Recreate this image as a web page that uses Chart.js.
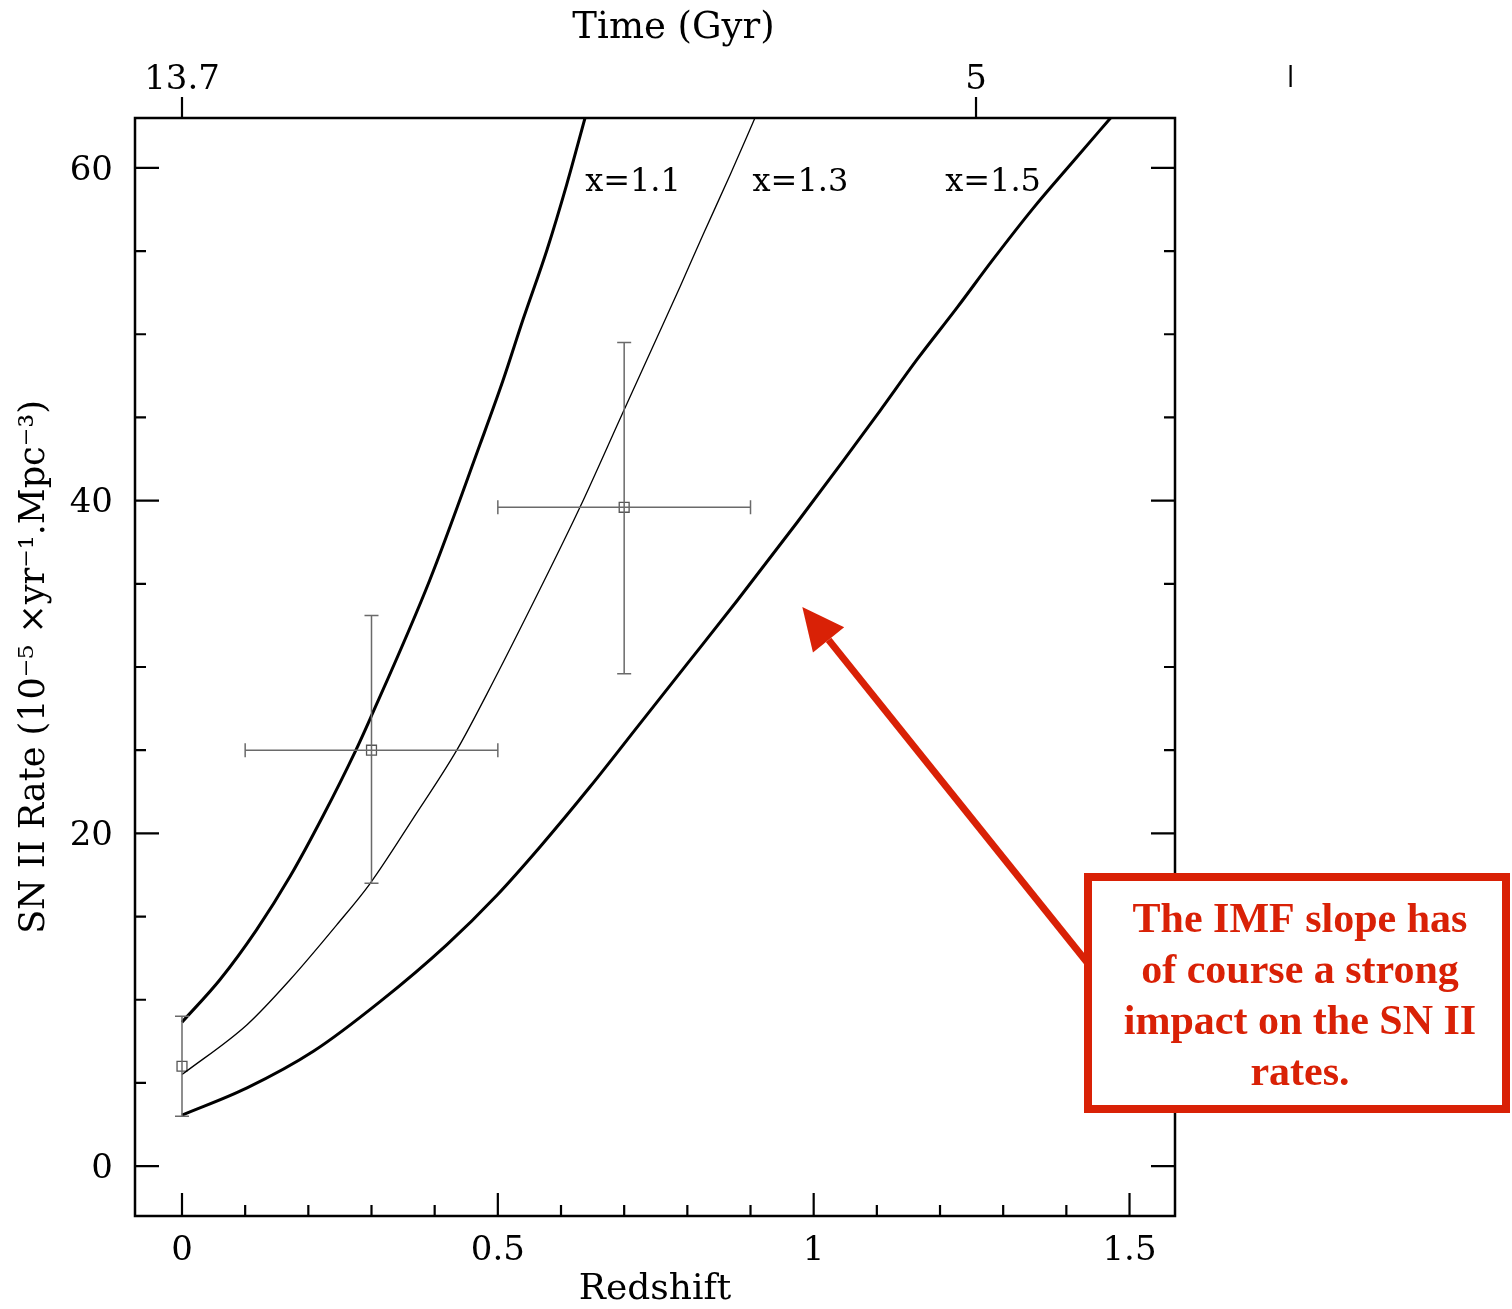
<!DOCTYPE html>
<html>
<head>
<meta charset="utf-8">
<title>SN II rate vs redshift</title>
<script src="https://cdn.jsdelivr.net/npm/chart.js@4.4.0/dist/chart.umd.min.js"></script>
<style>
  html, body { margin: 0; padding: 0; background: #fff; }
  #wrap { width: 1512px; height: 1309px; }
</style>
</head>
<body>
<div id="wrap"><canvas id="snChart" width="1512" height="1309"></canvas></div>
<script>
// --- 1. Data ---
// model curves, one per IMF slope
const z11 = [0, 0.06, 0.118, 0.171, 0.224, 0.274, 0.298, 0.392, 0.472, 0.508, 0.54, 0.578, 0.609, 0.638];
const rate11 = [8.65, 11.2, 14.2, 17.4, 21.1, 24.9, 26.9, 35.2, 43.4, 47.2, 50.9, 55.1, 59.0, 63.0];

const z13 = [0, 0.103, 0.171, 0.245, 0.298, 0.366, 0.435, 0.483, 0.567, 0.63, 0.698, 0.752, 0.789, 0.825, 0.868, 0.907];
const rate13 = [5.5, 8.5, 11.2, 14.5, 17.0, 20.9, 25.0, 28.4, 34.7, 39.6, 45.3, 49.8, 52.9, 56.0, 59.6, 63.0];

const z15 = [0, 0.103, 0.208, 0.314, 0.419, 0.499, 0.567, 0.646, 0.725, 0.8, 0.879, 0.974, 1.047, 1.105, 1.164, 1.227, 1.284, 1.348, 1.411, 1.47];
const rate15 = [3.06, 4.7, 6.9, 9.9, 13.3, 16.3, 19.2, 22.8, 26.6, 30.2, 34.0, 38.7, 42.4, 45.4, 48.5, 51.6, 54.5, 57.6, 60.4, 63.0];

const curveNames = ['x=1.1', 'x=1.3', 'x=1.5'];

// observed rates with error bars
const obsZ = [0, 0.3, 0.7];
const obsZLo = [0, 0.1, 0.5];
const obsZHi = [0, 0.5, 0.9];
const obsRate = [6.0, 25.0, 39.6];
const obsRateLo = [3.0, 17.0, 29.6];
const obsRateHi = [9.0, 33.1, 49.5];

// axes
const zTicks = [0, 0.1, 0.2, 0.3, 0.4, 0.5, 0.6, 0.7, 0.8, 0.9, 1.0, 1.1, 1.2, 1.3, 1.4, 1.5];
const zLabels = [0, 0.5, 1, 1.5];
const rateTicks = [0, 5, 10, 15, 20, 25, 30, 35, 40, 45, 50, 55, 60];
const rateLabels = [0, 20, 40, 60];
const timeTickZ = [0, 1.257];
const timeTickLabels = ['13.7', '5'];
const strayTimeTickZ = 1.755;

const noteLines = ['The IMF slope has', 'of course a strong', 'impact on the SN II', 'rates.'];

// --- 2. Helpers ---
const toXY = (xs, ys) => xs.map((v, i) => ({ x: v, y: ys[i] }));
const serif = '"DejaVu Serif", "Liberation Serif", serif';
const isMajor = (v, list) => list.some(m => Math.abs(m - v) < 1e-9);

// --- 3. Plugins: frame, inside ticks, error bars, labels, note ---
const frameTicks = {
    id: 'frameTicks',
    afterDatasetsDraw(chart) {
        const { ctx, chartArea: a, scales } = chart;
        const x = scales.x, y = scales.y;
        ctx.save();

        // error bars
        ctx.strokeStyle = '#6a6a6a';
        ctx.lineWidth = 1.5;
        ctx.beginPath();
        obsZ.forEach((z, i) => {
            const px = x.getPixelForValue(z);
            const py = y.getPixelForValue(obsRate[i]);
            const yLo = y.getPixelForValue(obsRateLo[i]);
            const yHi = y.getPixelForValue(obsRateHi[i]);
            ctx.moveTo(px, yLo); ctx.lineTo(px, yHi);
            ctx.moveTo(px - 7, yLo); ctx.lineTo(px + 7, yLo);
            ctx.moveTo(px - 7, yHi); ctx.lineTo(px + 7, yHi);
            if (obsZHi[i] > obsZLo[i]) {
                const xLo = x.getPixelForValue(obsZLo[i]);
                const xHi = x.getPixelForValue(obsZHi[i]);
                ctx.moveTo(xLo, py); ctx.lineTo(xHi, py);
                ctx.moveTo(xLo, py - 7); ctx.lineTo(xLo, py + 7);
                ctx.moveTo(xHi, py - 7); ctx.lineTo(xHi, py + 7);
            }
        });
        ctx.stroke();

        // frame
        ctx.strokeStyle = '#000';
        ctx.lineWidth = 2.5;
        ctx.strokeRect(a.left, a.top, a.right - a.left, a.bottom - a.top);

        // ticks pointing inwards (bottom, left, right)
        ctx.lineWidth = 2.2;
        ctx.beginPath();
        zTicks.forEach(v => {
            const px = x.getPixelForValue(v);
            const len = isMajor(v, zLabels) ? 23 : 11;
            ctx.moveTo(px, a.bottom); ctx.lineTo(px, a.bottom - len);
        });
        rateTicks.forEach(v => {
            const py = y.getPixelForValue(v);
            const len = isMajor(v, rateLabels) ? 24 : 11;
            ctx.moveTo(a.left, py); ctx.lineTo(a.left + len, py);
            ctx.moveTo(a.right, py); ctx.lineTo(a.right - len, py);
        });
        // time axis ticks point outwards
        timeTickZ.forEach(v => {
            const px = x.getPixelForValue(v);
            ctx.moveTo(px, a.top); ctx.lineTo(px, a.top - 21);
        });
        const sx = x.getPixelForValue(strayTimeTickZ);
        ctx.moveTo(sx, a.top - 31); ctx.lineTo(sx, a.top - 53);
        ctx.stroke();

        // curve names
        ctx.fillStyle = '#000';
        ctx.font = '32px ' + serif;
        ctx.textAlign = 'center';
        ctx.textBaseline = 'middle';
        const labelAt = [[0.714, 59.1], [0.979, 59.1], [1.284, 59.1]];
        curveNames.forEach((t, i) => {
            ctx.fillText(t, x.getPixelForValue(labelAt[i][0]), y.getPixelForValue(labelAt[i][1]));
        });
        ctx.restore();
    },
    afterDraw(chart) {
        const { ctx, scales } = chart;
        const red = '#d92106';
        ctx.save();

        // arrow pointing at the x=1.5 curve
        const tipX = scales.x.getPixelForValue(0.982);
        const tipY = scales.y.getPixelForValue(33.6);
        const fromX = 1090, fromY = 966;
        const ang = Math.atan2(tipY - fromY, tipX - fromX);
        const headLen = 42, headHalf = 20;
        const baseX = tipX - headLen * Math.cos(ang), baseY = tipY - headLen * Math.sin(ang);
        ctx.strokeStyle = red;
        ctx.lineWidth = 7;
        ctx.beginPath();
        ctx.moveTo(fromX, fromY); ctx.lineTo(baseX, baseY);
        ctx.stroke();
        ctx.fillStyle = red;
        ctx.beginPath();
        ctx.moveTo(tipX, tipY);
        ctx.lineTo(baseX + headHalf * Math.sin(ang), baseY - headHalf * Math.cos(ang));
        ctx.lineTo(baseX - headHalf * Math.sin(ang), baseY + headHalf * Math.cos(ang));
        ctx.closePath();
        ctx.fill();

        // note box
        ctx.fillStyle = '#fff';
        ctx.fillRect(1088, 877, 418, 232);
        ctx.strokeStyle = red;
        ctx.lineWidth = 8;
        ctx.strokeRect(1088, 877, 418, 232);
        ctx.fillStyle = red;
        ctx.font = 'bold 42px "Liberation Serif", "Times New Roman", serif';
        ctx.textAlign = 'center';
        ctx.textBaseline = 'alphabetic';
        noteLines.forEach((t, i) => ctx.fillText(t, 1300, 932 + i * 51));
        ctx.restore();
    }
};

// --- 4. Chart ---
const curveStyle = { showLine: true, borderColor: '#000', pointRadius: 0, cubicInterpolationMode: 'monotone' };
const ctx = document.getElementById('snChart').getContext('2d');
const snChart = new Chart(ctx, {
    type: 'scatter',
    data: {
        datasets: [
            { data: toXY(z11, rate11), borderWidth: 3, ...curveStyle },
            { data: toXY(z13, rate13), borderWidth: 1.3, ...curveStyle },
            { data: toXY(z15, rate15), borderWidth: 3, ...curveStyle },
            {
                data: toXY(obsZ, obsRate), pointStyle: 'rect', pointRadius: 7,
                borderColor: '#555', backgroundColor: 'rgba(0,0,0,0)', borderWidth: 1.3
            }
        ]
    },
    options: {
        responsive: false,
        animation: false,
        events: [],
        layout: { padding: { left: 0, right: 337, top: 0, bottom: 0 } },
        plugins: { legend: { display: false }, tooltip: { enabled: false } },
        scales: {
            x: {
                type: 'linear', position: 'bottom', min: -0.0744, max: 1.572,
                grid: { display: false, drawTicks: false }, border: { display: false },
                afterBuildTicks: s => { s.ticks = zLabels.map(v => ({ value: v })); },
                afterFit: s => { s.height = 93; },
                ticks: {
                    color: '#000', padding: 15, maxRotation: 0, font: { family: serif, size: 34 },
                    callback: v => String(v)
                },
                title: {
                    display: true, text: 'Redshift', color: '#000', padding: { top: 0, bottom: 0 },
                    font: { family: serif, size: 36, lineHeight: 1.05 }
                }
            },
            x2: {
                type: 'linear', position: 'top', min: -0.0744, max: 1.572,
                grid: { display: false, drawTicks: false }, border: { display: false },
                afterBuildTicks: s => { s.ticks = timeTickZ.map(v => ({ value: v })); },
                afterFit: s => { s.height = 118; },
                ticks: {
                    color: '#000', padding: 17, maxRotation: 0, font: { family: serif, size: 34 },
                    callback: v => timeTickLabels[timeTickZ.indexOf(v)]
                },
                title: {
                    // en spaces nudge the centred title to the right, as in the original
                    display: true, text: '\u2002\u2002Time (Gyr)', color: '#000', padding: { top: 6, bottom: 0 },
                    font: { family: serif, size: 37 }
                }
            },
            y: {
                type: 'linear', position: 'left', min: -3.0, max: 63.0,
                grid: { display: false, drawTicks: false }, border: { display: false },
                afterBuildTicks: s => { s.ticks = rateLabels.map(v => ({ value: v })); },
                afterFit: s => { s.width = 135; },
                ticks: { color: '#000', padding: 22, labelOffset: 3, font: { family: serif, size: 34 } },
                title: {
                    display: true, text: 'SN II Rate (10⁻⁵ ×yr⁻¹.Mpc⁻³)', color: '#000',
                    padding: { top: 14, bottom: 0 }, font: { family: serif, size: 35 }
                }
            }
        }
    },
    plugins: [frameTicks]
});
</script>
</body>
</html>
